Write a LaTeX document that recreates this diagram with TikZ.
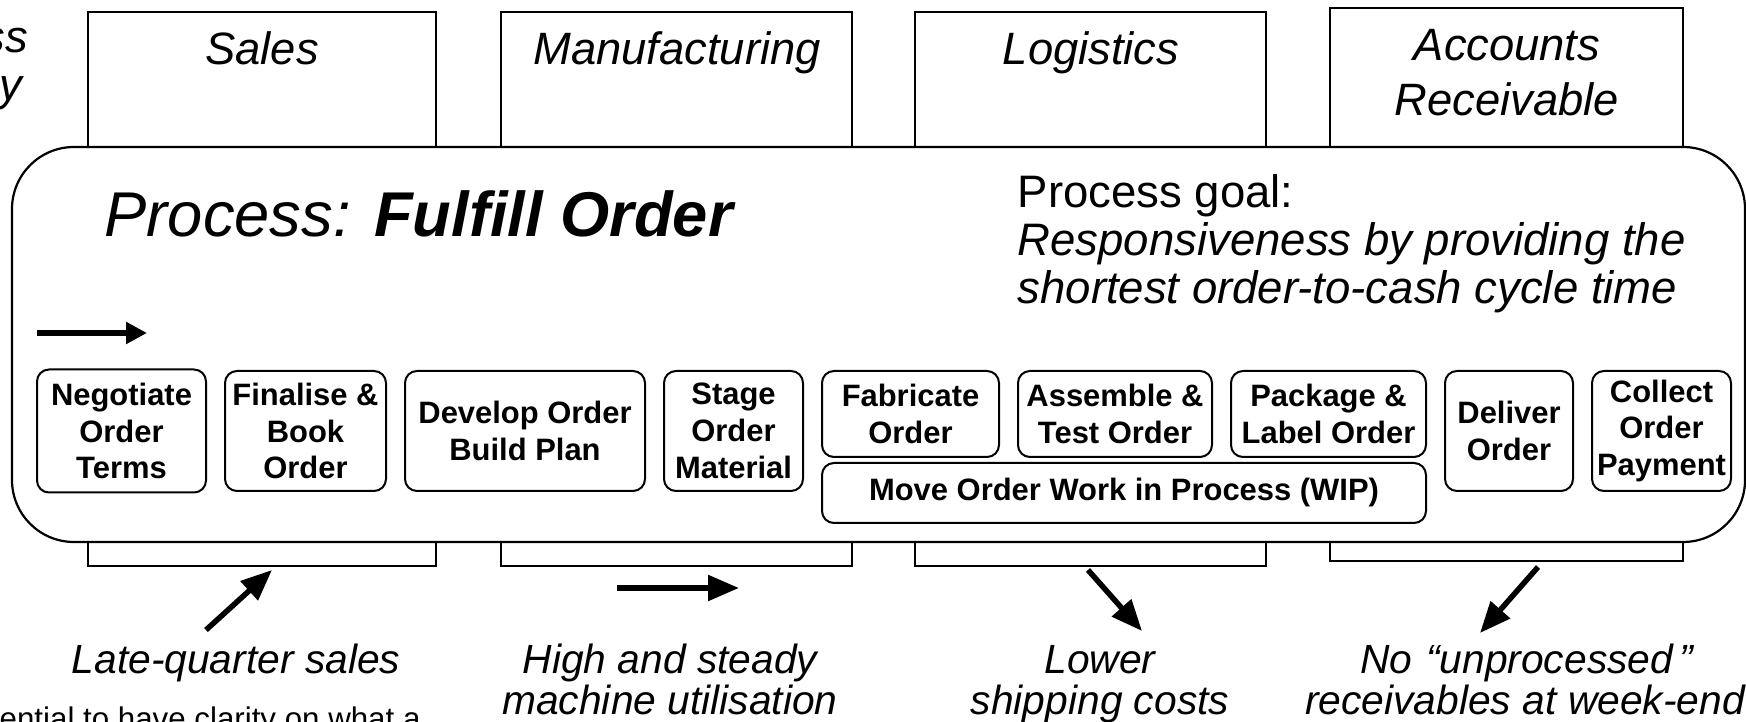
\documentclass[tikz,border=0pt]{standalone}
\usepackage{fontspec}
\setmainfont{Liberation Sans}
\usetikzlibrary{arrows.meta}
\usetikzlibrary{positioning}
\tikzset{>={Triangle[length=3.1mm,width=2.5mm]}}

\begin{document}
\begin{tikzpicture}[x=0.1mm, y=-0.1mm, inner sep=0pt, node distance=1.7mm,
	lane/.style={draw, line width=0.15mm},
	procbox/.style={draw, fill=white, line width=0.22mm, rounded corners=6.2mm},
	stepbox/.style={draw, rounded corners=1.2mm, line width=0.2mm, align=center, font=\fontsize{8.8}{10.5}\selectfont\bfseries},
	lanename/.style={anchor=base, font=\fontsize{12.9}{15}\selectfont\itshape},
	goaltext/.style={anchor=base west, font=\fontsize{12.95}{15}\selectfont},
	effect/.style={anchor=base, font=\fontsize{11.6}{13}\selectfont\itshape},
	bigarrow/.style={->, line width=0.55mm}]
	\useasboundingbox (0,0) rectangle (1746,722);
	\clip (0,0) rectangle (1746,722);

	% text cut off at the page edge
	\node[anchor=base east, font=\fontsize{12.9}{15}\selectfont\itshape] (fragss) at (29,53) {ss};
	\node[anchor=base east, font=\fontsize{12.9}{15}\selectfont\itshape] (fragy) at (23,101) {y};
	\node[anchor=base west, font=\fontsize{8.9}{10}\selectfont] (fragline) at (-1,729) {ential to have clarity on what a};

	% swim lanes
	\draw[lane] (88,12) rectangle (436,566);
	\draw[lane] (501,12) rectangle (852,566);
	\draw[lane] (915,12) rectangle (1266,566);
	\draw[lane] (1330,8) rectangle (1683,561);
	\node[lanename] (sales) at (262,65) {Sales};
	\node[lanename] (manuf) at (677,65) {Manufacturing};
	\node[lanename] (logist) at (1091,65) {Logistics};
	\node[lanename] (accts) at (1507,61) {Accounts};
	\node[lanename] (receiv) at (1507,116) {Receivable};

	% the process
	\draw[procbox] (12,147) rectangle (1745,542);
	\node[anchor=base west, font=\fontsize{18}{21}\selectfont\itshape] (title) at (104,237) {Process: \textbf{Fulfill Order}};
	\node[goaltext] (goalhead) at (1017,208) {Process goal:};
	\node[goaltext] (goalone) at (1017,256) {\itshape Responsiveness by providing the};
	\node[goaltext] (goaltwo) at (1017,304) {\itshape shortest order-to-cash cycle time};
	\coordinate (flowstart) at (37,333);
	\coordinate (flowend) at (147,333);
	\draw[-{Triangle[length=2.1mm,width=2.1mm]}, line width=0.55mm] (flowstart) -- (flowend);

	% steps
	\node[stepbox, minimum width=16.9mm, minimum height=12.3mm] (terms) at (121.5,431) {Negotiate\\Order\\Terms};
	\node[stepbox, minimum width=16.1mm, minimum height=12mm] (book) [right=of terms] {Finalise \&\\Book\\Order};
	\node[stepbox, minimum width=24mm, minimum height=12mm] (plan) [right=of book] {Develop Order\\Build Plan};
	\node[stepbox, minimum width=13.9mm, minimum height=12mm] (material) [right=of plan] {Stage\\Order\\Material};
	\node[stepbox, minimum width=17.7mm, minimum height=8.6mm] (fabricate) [right=of material.north east, anchor=north west] {Fabricate\\Order};
	\node[stepbox, minimum width=19.4mm, minimum height=8.6mm] (test) [right=of fabricate] {Assemble \&\\Test Order};
	\node[stepbox, minimum width=19.5mm, minimum height=8.6mm] (label) [right=of test] {Package \&\\Label Order};
	\node[stepbox, minimum width=60.4mm, minimum height=6mm] (wip) [below=0.4mm of fabricate.south west, anchor=north west] {Move Order Work in Process (WIP)};
	\node[stepbox, minimum width=12.8mm, minimum height=12mm] (deliver) [right=of label.north east, anchor=north west] {Deliver\\Order};
	\node[stepbox, minimum width=13.9mm, minimum height=12mm] (payment) [right=of deliver] {Collect\\Order\\Payment};

	% effects on the functions
	\node[effect] (latesales) at (236,673) {Late-quarter sales};
	\node[effect] (steady) at (670,673) {High and steady};
	\node[effect] (utilis) at (670,714) {machine utilisation};
	\node[effect] (lower) at (1100,673) {Lower};
	\node[effect] (shipping) at (1100,714) {shipping costs};
	\node[effect] (unproc) at (1527,673) {No\,\,“unprocessed\,”};
	\node[effect] (weekend) at (1525,714) {receivables at week-end};
	\coordinate (salesfrom) at (206,630);
	\coordinate (salesto) at (272,570);
	\coordinate (manufrom) at (617,588);
	\coordinate (manuto) at (739,588);
	\coordinate (logfrom) at (1088,570);
	\coordinate (logto) at (1142,631);
	\coordinate (arfrom) at (1538,567);
	\coordinate (arto) at (1480,633);
	\draw[bigarrow] (salesfrom) -- (salesto);
	\draw[bigarrow] (manufrom) -- (manuto);
	\draw[bigarrow] (logfrom) -- (logto);
	\draw[bigarrow] (arfrom) -- (arto);
\end{tikzpicture}
\end{document}
